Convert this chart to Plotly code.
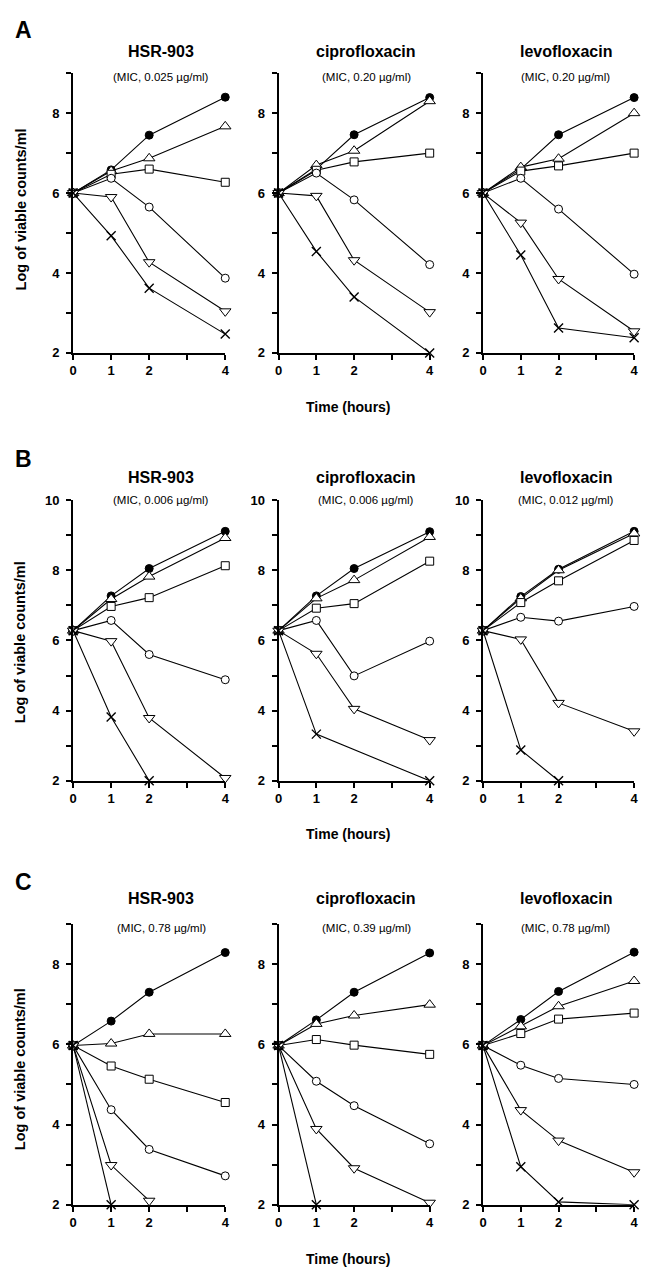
import plotly.graph_objects as go

FONT = "Liberation Sans, Arial, Helvetica, sans-serif"

# ---------------- data ----------------
TIME = [0, 1, 2, 4]
X_TICK_VALUES = [0, 1, 2, 3, 4]
X_TICK_TEXT = ["0", "1", "2", "", "4"]

ROW_LETTERS = ["A", "B", "C"]
DRUGS = ["HSR-903", "ciprofloxacin", "levofloxacin"]
MIC_A = ["(MIC, 0.025 µg/ml)", "(MIC, 0.20 µg/ml)", "(MIC, 0.20 µg/ml)"]
MIC_B = ["(MIC, 0.006 µg/ml)", "(MIC, 0.006 µg/ml)", "(MIC, 0.012 µg/ml)"]
MIC_C = ["(MIC, 0.78 µg/ml)", "(MIC, 0.39 µg/ml)", "(MIC, 0.78 µg/ml)"]
Y_MAX = [9, 10, 9]
Y_LABEL = "Log of viable counts/ml"
X_LABEL = "Time (hours)"

# series order: filled circle, triangle up, square, open circle, triangle down, cross
A_HSR903 = [
    [6.0, 6.58, 7.45, 8.40],
    [6.0, 6.55, 6.87, 7.67],
    [6.0, 6.47, 6.60, 6.27],
    [6.0, 6.37, 5.65, 3.87],
    [6.0, 5.90, 4.27, 3.04],
    [6.0, 4.93, 3.62, 2.47],
]
A_CIPRO = [
    [6.0, 6.60, 7.46, 8.39],
    [6.0, 6.70, 7.06, 8.30],
    [6.0, 6.57, 6.78, 7.00],
    [6.0, 6.50, 5.83, 4.21],
    [6.0, 5.93, 4.32, 3.02],
    [6.0, 4.54, 3.40, 2.00],
]
A_LEVO = [
    [6.0, 6.60, 7.46, 8.39],
    [6.0, 6.65, 6.86, 8.00],
    [6.0, 6.55, 6.68, 7.00],
    [6.0, 6.37, 5.60, 3.97],
    [6.0, 5.26, 3.85, 2.54],
    [6.0, 4.45, 2.62, 2.38],
]
B_HSR903 = [
    [6.28, 7.27, 8.05, 9.11],
    [6.28, 7.18, 7.82, 8.92],
    [6.28, 6.97, 7.22, 8.13],
    [6.28, 6.57, 5.60, 4.88],
    [6.28, 5.98, 3.79, 2.08],
    [6.28, 3.82, 2.00, None],
]
B_CIPRO = [
    [6.28, 7.27, 8.05, 9.10],
    [6.28, 7.20, 7.72, 8.95],
    [6.28, 6.92, 7.05, 8.26],
    [6.28, 6.57, 4.99, 5.98],
    [6.28, 5.62, 4.05, 3.16],
    [6.28, 3.33, None, 2.00],
]
B_LEVO = [
    [6.28, 7.25, 8.03, 9.11],
    [6.28, 7.20, 8.00, 9.05],
    [6.28, 7.08, 7.70, 8.85],
    [6.28, 6.66, 6.55, 6.97],
    [6.28, 6.03, 4.22, 3.41],
    [6.28, 2.88, 2.00, None],
]
C_HSR903 = [
    [5.97, 6.58, 7.30, 8.29],
    [5.97, 6.02, 6.26, 6.26],
    [5.97, 5.46, 5.13, 4.55],
    [5.97, 4.37, 3.38, 2.72],
    [5.97, 2.99, 2.10, None],
    [5.97, 2.00, None, None],
]
C_CIPRO = [
    [5.97, 6.61, 7.30, 8.28],
    [5.97, 6.51, 6.72, 6.99],
    [5.97, 6.12, 5.98, 5.75],
    [5.97, 5.08, 4.47, 3.52],
    [5.97, 3.89, 2.91, 2.05],
    [5.97, 2.00, None, None],
]
C_LEVO = [
    [5.97, 6.62, 7.32, 8.30],
    [5.97, 6.45, 6.95, 7.58],
    [5.97, 6.27, 6.63, 6.78],
    [5.97, 5.48, 5.15, 5.00],
    [5.97, 4.36, 3.60, 2.81],
    [5.97, 2.95, 2.07, 2.00],
]

PANELS = [[A_HSR903, A_CIPRO, A_LEVO],
          [B_HSR903, B_CIPRO, B_LEVO],
          [C_HSR903, C_CIPRO, C_LEVO]]
MICS = [MIC_A, MIC_B, MIC_C]

# ---------------- style / layout ----------------
W, H = 647, 1274
COL_PX = [(70, 224), (278, 431), (485, 638)]
ROW_PX = [(67, 350), (499, 783), (928, 1212)]
TITLE_X = [159, 367, 569]
NAME_Y = [45, 476, 902]
MIC_Y = [71, 499, 932]
TIME_Y = [405, 837, 1267]
LETTER_Y = [23, 457, 885]
YLAB_Y = [205, 643, 1075]

MARKERS = [
    dict(symbol="circle", size=8, color="black", line=dict(color="black", width=1)),
    dict(symbol="triangle-up", size=10, color="white", line=dict(color="black", width=1)),
    dict(symbol="square", size=8, color="white", line=dict(color="black", width=1)),
    dict(symbol="circle", size=8, color="white", line=dict(color="black", width=1)),
    dict(symbol="triangle-down", size=10, color="white", line=dict(color="black", width=1)),
    dict(symbol="x-thin", size=9, color="black", line=dict(color="black", width=1.4)),
]

fig = go.Figure()
annotations = []
layout = {}

for r in range(3):
    for c in range(3):
        idx = r * 3 + c + 1
        xa = "x" if idx == 1 else f"x{idx}"
        ya = "y" if idx == 1 else f"y{idx}"
        for s, vals in enumerate(PANELS[r][c]):
            fig.add_trace(go.Scatter(
                x=TIME, y=vals, xaxis=xa, yaxis=ya, mode="lines+markers",
                line=dict(color="black", width=1.1), marker=MARKERS[s],
                connectgaps=True, cliponaxis=False, showlegend=False,
            ))
        l, rr = COL_PX[c]
        t, b = ROW_PX[r]
        ymax = Y_MAX[r]
        yvals = list(range(2, ymax + 1))
        ytext = [str(v) if v % 2 == 0 else "" for v in yvals]
        layout["xaxis" if idx == 1 else f"xaxis{idx}"] = dict(
            domain=[l / W, rr / W], anchor=ya, range=[0, 4],
            tickvals=X_TICK_VALUES, ticktext=X_TICK_TEXT,
            showline=True, linewidth=2, linecolor="black",
            ticks="outside", ticklen=5, tickwidth=2, tickcolor="black",
            tickfont=dict(family=FONT, size=13, color="black", weight="bold"),
            showgrid=False, zeroline=False, fixedrange=True,
        )
        layout["yaxis" if idx == 1 else f"yaxis{idx}"] = dict(
            domain=[1 - b / H, 1 - t / H], anchor=xa, range=[2, ymax],
            tickvals=yvals, ticktext=ytext,
            showline=True, linewidth=2, linecolor="black",
            ticks="outside", ticklen=5, tickwidth=2, tickcolor="black",
            tickfont=dict(family=FONT, size=13, color="black", weight="bold"),
            ticklabelstandoff=4,
            showgrid=False, zeroline=False, fixedrange=True,
        )
        annotations.append(dict(
            text=DRUGS[c], x=TITLE_X[c] / W, y=1 - NAME_Y[r] / H,
            xref="paper", yref="paper", xanchor="center", yanchor="middle",
            showarrow=False, font=dict(family=FONT, size=16, color="black", weight="bold"),
        ))
        annotations.append(dict(
            text=MICS[r][c], x=TITLE_X[c] / W, y=1 - MIC_Y[r] / H,
            xref="paper", yref="paper", xanchor="center", yanchor="middle",
            showarrow=False, font=dict(family=FONT, size=11.5, color="black"),
        ))
    annotations.append(dict(
        text=ROW_LETTERS[r], x=20 / W, y=1 - LETTER_Y[r] / H,
        xref="paper", yref="paper", xanchor="center", yanchor="middle",
        showarrow=False, font=dict(family=FONT, size=23, color="black", weight="bold"),
    ))
    annotations.append(dict(
        text=Y_LABEL, x=17 / W, y=1 - YLAB_Y[r] / H, textangle=-90,
        xref="paper", yref="paper", xanchor="center", yanchor="middle",
        showarrow=False, font=dict(family=FONT, size=14.5, color="black", weight="bold"),
    ))
    annotations.append(dict(
        text=X_LABEL, x=349 / W, y=1 - TIME_Y[r] / H,
        xref="paper", yref="paper", xanchor="center", yanchor="middle",
        showarrow=False, font=dict(family=FONT, size=14, color="black", weight="bold"),
    ))

fig.update_layout(
    width=W, height=H, margin=dict(l=0, r=0, t=0, b=0),
    paper_bgcolor="white", plot_bgcolor="white",
    showlegend=False, annotations=annotations, **layout,
)

fig.write_html(
    "out.html",
    config={"displayModeBar": False, "staticPlot": True},
    post_script="document.body.style.margin='0';document.body.style.padding='0';"
                "document.documentElement.style.overflow='hidden';"
                "document.body.style.overflow='hidden';",
)
